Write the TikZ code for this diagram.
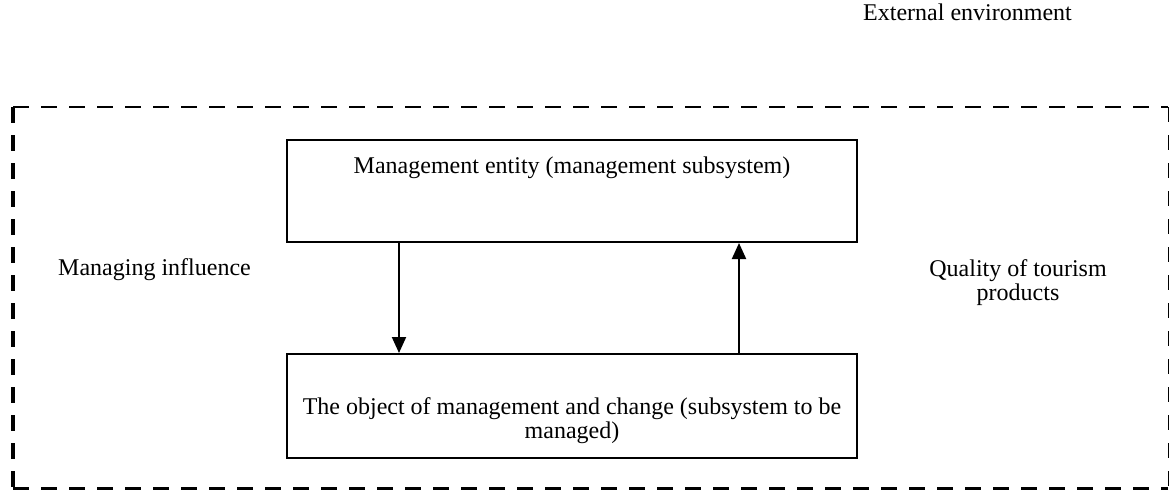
\documentclass[tikz,border=0pt]{standalone}
\usepackage{fontspec}
\setmainfont{Liberation Serif}
\usetikzlibrary{arrows.meta}
\begin{document}
\begin{tikzpicture}[x=1pt,y=-1pt,
  txt/.style={font=\fontsize{24}{24}\selectfont, inner sep=0pt},
  unitbox/.style={draw, line width=2pt},
  flow/.style={line width=2pt, -{Triangle[length=16pt,width=14pt]}},
  thickdash/.style={dash pattern=on 16pt off 12pt},
]
\useasboundingbox (0,0) rectangle (1169,490);

% frame of the system: heavy dashes on three sides, light on the right
\coordinate (tl) at (13,107);
\coordinate (tr) at (1168,107);
\coordinate (br) at (1168,488);
\coordinate (bl) at (13,488);
\draw[thickdash, line width=2.5pt] (tl) -- (tr);
\draw[thickdash, line width=4pt] (tl) -- (bl);
\draw[thickdash, line width=3pt] (bl) -- (br);
\draw[dash pattern=on 15pt off 13pt, line width=1pt] (tr) -- (br);

% the two subsystems
\node[unitbox, minimum width=570pt, minimum height=102pt, anchor=south west] (subj) at (286,243) {};
\node[txt, anchor=base] (subjtxt) at ([yshift=18pt]subj.center) {Management entity (management subsystem)};

\node[unitbox, minimum width=570pt, minimum height=104pt, anchor=north west] (obj) at (286,353) {};
\node[txt, align=center] (objtxt) at ([yshift=-15pt]obj.center) {The object of management and change (subsystem to be\\managed)};

% feedback loop
\draw[flow] (subj.south -| 399,0) -- (obj.north -| 399,0);
\draw[flow] (obj.north -| 739,0) -- (subj.south -| 739,0);

% side labels
\node[txt, anchor=base west] (infl) at (58,275) {Managing influence};
\node[txt, align=center, anchor=base] (qual) at (1018,300) {Quality of tourism\\products};
\node[txt, anchor=base west] (env) at (863,20) {External environment};
\end{tikzpicture}
\end{document}
